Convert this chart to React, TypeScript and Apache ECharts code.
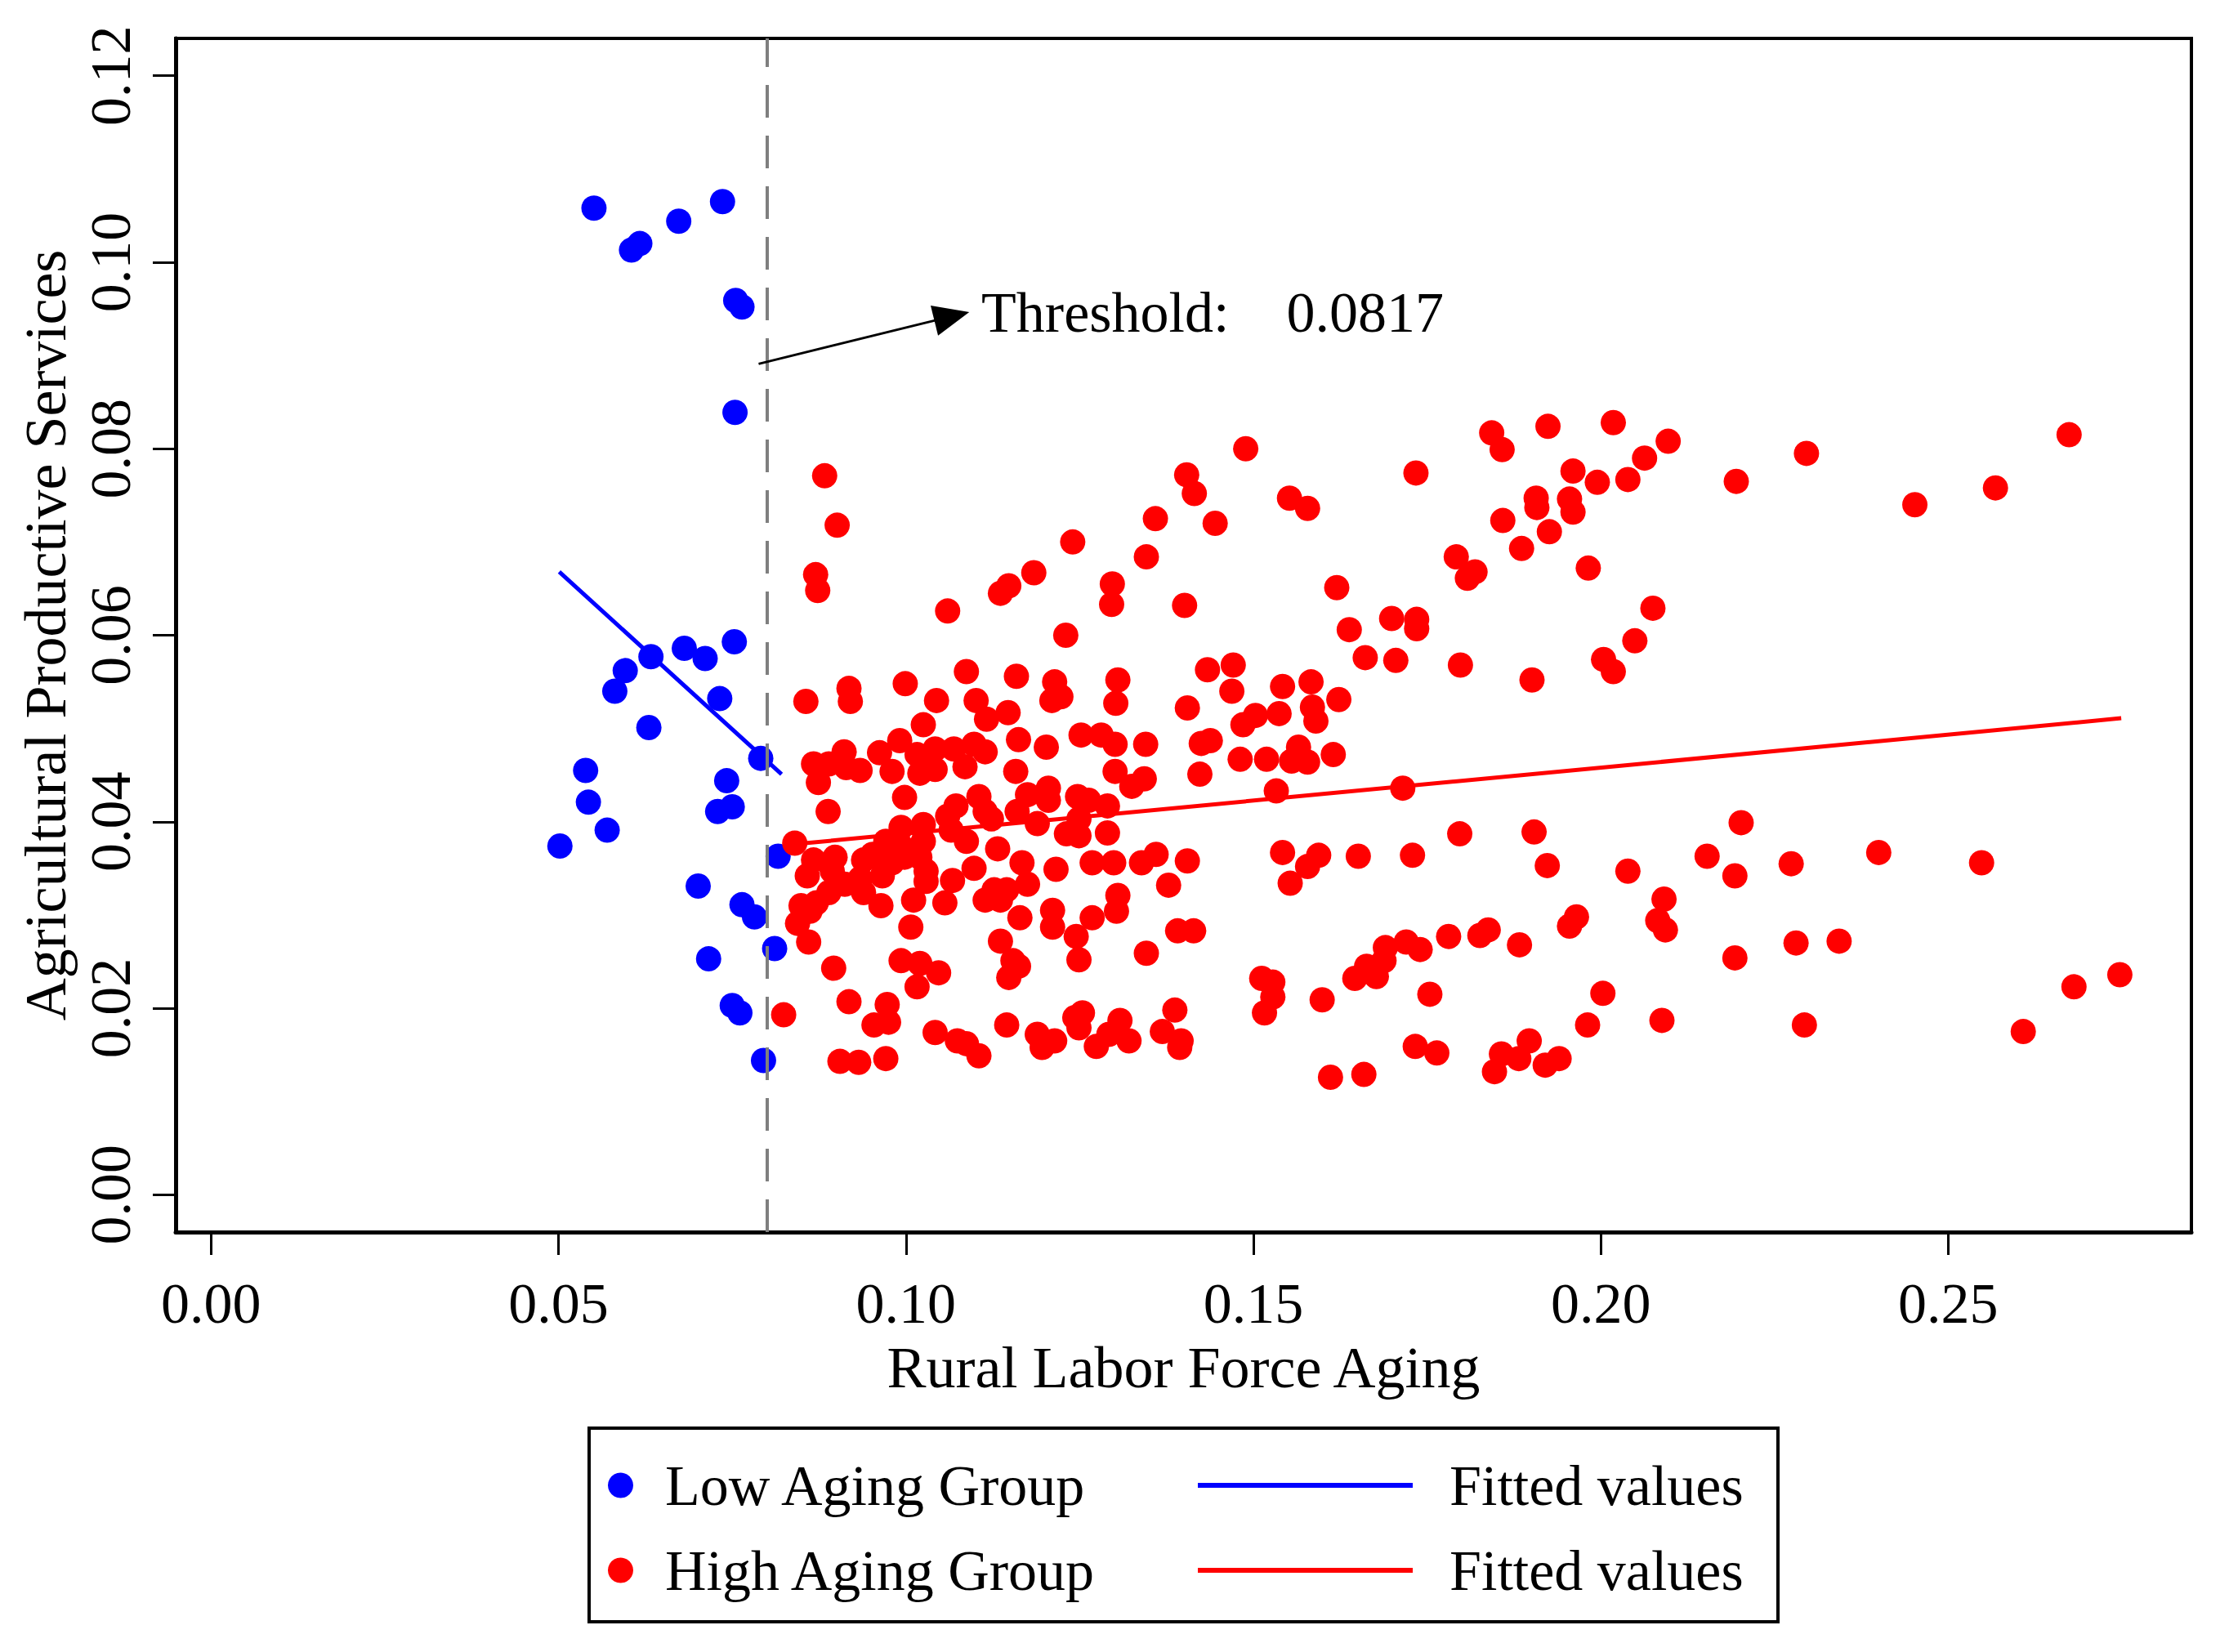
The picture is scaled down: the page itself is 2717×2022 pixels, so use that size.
import { useEffect, useRef } from 'react';
import * as echarts from 'echarts';

const FONT = 'Liberation Serif';

// x = Rural Labor Force Aging, y = Agricultural Productive Services
const lowAging: [number, number][] = [
  [0.0551, 0.1058], [0.0605, 0.1013], [0.0617, 0.102], [0.0673, 0.1044], [0.0736, 0.1065],
  [0.0755, 0.0959], [0.0764, 0.0952], [0.0754, 0.0839], [0.0502, 0.0374], [0.0539, 0.0455],
  [0.0543, 0.0421], [0.057, 0.0391], [0.0581, 0.054], [0.0596, 0.0562], [0.0633, 0.0577],
  [0.063, 0.0501], [0.0681, 0.0586], [0.0711, 0.0575], [0.0732, 0.0532], [0.0753, 0.0593],
  [0.0791, 0.0468], [0.0742, 0.0444], [0.0729, 0.0411], [0.075, 0.0416], [0.0701, 0.0331],
  [0.0764, 0.0311], [0.0782, 0.0298], [0.0716, 0.0253], [0.075, 0.0203], [0.0761, 0.0195],
  [0.0795, 0.0144], [0.0811, 0.0264], [0.0816, 0.0363],
];

const highAging: [number, number][] = [
  [0.0883, 0.0771], [0.0901, 0.0718], [0.087, 0.0665], [0.0873, 0.0648], [0.106, 0.0626],
  [0.1136, 0.0645], [0.1148, 0.0653], [0.1184, 0.0667], [0.124, 0.07], [0.1359, 0.0725],
  [0.1404, 0.0772], [0.1415, 0.0752], [0.1445, 0.072], [0.1346, 0.0684], [0.1297, 0.0655],
  [0.1296, 0.0633], [0.1401, 0.0632], [0.123, 0.06], [0.0856, 0.0529], [0.0918, 0.0543],
  [0.092, 0.0529], [0.0999, 0.0548], [0.1044, 0.053], [0.1087, 0.0561], [0.1101, 0.053],
  [0.1116, 0.051], [0.1147, 0.0517], [0.1159, 0.0556], [0.1214, 0.055], [0.121, 0.053],
  [0.1223, 0.0534], [0.1305, 0.0552], [0.1302, 0.0527], [0.1434, 0.0563], [0.1405, 0.0522],
  [0.1025, 0.0504], [0.1162, 0.0488], [0.1202, 0.048], [0.1252, 0.0493], [0.1281, 0.0493],
  [0.1301, 0.0483], [0.1345, 0.0483], [0.1425, 0.0484], [0.1438, 0.0487], [0.1423, 0.0451],
  [0.1301, 0.0454], [0.1158, 0.0454], [0.1343, 0.0446], [0.1325, 0.0438], [0.0867, 0.0462],
  [0.0911, 0.0475], [0.0889, 0.0462], [0.0934, 0.0455], [0.0914, 0.0458], [0.0962, 0.0474],
  [0.098, 0.0454], [0.0991, 0.0487], [0.1016, 0.0472], [0.102, 0.0452], [0.1042, 0.0478],
  [0.1042, 0.0456], [0.1069, 0.0478], [0.1085, 0.0459], [0.1098, 0.0483], [0.1114, 0.0475],
  [0.0874, 0.0442], [0.0998, 0.0426], [0.0888, 0.0411], [0.1072, 0.0417], [0.106, 0.0406],
  [0.1105, 0.0427], [0.1114, 0.0411], [0.1123, 0.0403], [0.1175, 0.0429], [0.1205, 0.0436],
  [0.1205, 0.0423], [0.116, 0.0411], [0.1189, 0.0398], [0.1247, 0.0427], [0.1263, 0.0423],
  [0.129, 0.0417], [0.1249, 0.0403], [0.1231, 0.0387], [0.129, 0.0388], [0.1249, 0.0385],
  [0.084, 0.0377], [0.0993, 0.0394], [0.1025, 0.0397], [0.0971, 0.0379], [0.1025, 0.0379],
  [0.0993, 0.0374], [0.1065, 0.0391], [0.1087, 0.0379], [0.1132, 0.0371], [0.0867, 0.0359],
  [0.0898, 0.0362], [0.0858, 0.0342], [0.0894, 0.0347], [0.0939, 0.0359], [0.0952, 0.0365],
  [0.098, 0.0356], [0.0998, 0.0362], [0.102, 0.0362], [0.1029, 0.0347], [0.0934, 0.0339],
  [0.0966, 0.0342], [0.0939, 0.0324], [0.0912, 0.0333], [0.0889, 0.0324], [0.0871, 0.0313],
  [0.0849, 0.031], [0.0844, 0.0291], [0.0862, 0.0304], [0.086, 0.0271], [0.0964, 0.031],
  [0.1029, 0.0336], [0.1011, 0.0316], [0.1007, 0.0287], [0.1056, 0.0313], [0.1067, 0.0337],
  [0.1098, 0.035], [0.1114, 0.0316], [0.1127, 0.0327], [0.1145, 0.0327], [0.1136, 0.0316],
  [0.1167, 0.0356], [0.1175, 0.0333], [0.1164, 0.0297], [0.1216, 0.0349], [0.1268, 0.0356],
  [0.1299, 0.0356], [0.1339, 0.0356], [0.136, 0.0365], [0.1405, 0.0358], [0.1378, 0.0332],
  [0.1305, 0.0321], [0.1303, 0.0304], [0.1211, 0.0305], [0.1211, 0.0287], [0.1268, 0.0297],
  [0.1245, 0.0277], [0.1249, 0.0252], [0.1346, 0.0259], [0.1391, 0.0283], [0.1414, 0.0283],
  [0.1136, 0.0272], [0.1154, 0.0251], [0.1162, 0.0245], [0.1148, 0.0233], [0.0896, 0.0243],
  [0.0993, 0.0251], [0.102, 0.0248], [0.1047, 0.0238], [0.1016, 0.0223], [0.0918, 0.0207],
  [0.0824, 0.0193], [0.0973, 0.0204], [0.0954, 0.0182], [0.0975, 0.0185], [0.1042, 0.0174],
  [0.1074, 0.0165], [0.1087, 0.0162], [0.1105, 0.0149], [0.1145, 0.0182], [0.1189, 0.0172],
  [0.1214, 0.0165], [0.1196, 0.0158], [0.1243, 0.019], [0.1254, 0.0195], [0.1249, 0.0179],
  [0.1274, 0.0159], [0.1292, 0.0172], [0.1308, 0.0187], [0.1321, 0.0165], [0.1387, 0.0198],
  [0.1369, 0.0175], [0.1396, 0.0165], [0.1394, 0.0158], [0.0905, 0.0143], [0.0932, 0.0142],
  [0.0971, 0.0146], [0.1489, 0.08], [0.1552, 0.0747], [0.1578, 0.0736], [0.1734, 0.0774],
  [0.1843, 0.0817], [0.1858, 0.0799], [0.1924, 0.0824], [0.2018, 0.0828], [0.2097, 0.0808],
  [0.2063, 0.079], [0.2039, 0.0767], [0.1995, 0.0764], [0.196, 0.0776], [0.1907, 0.0747],
  [0.1908, 0.0737], [0.1955, 0.0746], [0.196, 0.0732], [0.1859, 0.0723], [0.1926, 0.0711],
  [0.1886, 0.0693], [0.1982, 0.0672], [0.1792, 0.0684], [0.1819, 0.0668], [0.1808, 0.0661],
  [0.162, 0.0651], [0.1638, 0.0606], [0.1699, 0.0618], [0.1735, 0.0617], [0.1735, 0.0607],
  [0.1661, 0.0576], [0.1705, 0.0573], [0.1798, 0.0568], [0.1901, 0.0552], [0.2075, 0.0629],
  [0.2049, 0.0594], [0.2004, 0.0574], [0.2018, 0.0561], [0.1471, 0.0568], [0.1469, 0.054],
  [0.1542, 0.0545], [0.1583, 0.055], [0.1585, 0.0523], [0.159, 0.0508], [0.1623, 0.0531],
  [0.1537, 0.0516], [0.1503, 0.0514], [0.1485, 0.0504], [0.1481, 0.0467], [0.1519, 0.0467],
  [0.1565, 0.048], [0.1555, 0.0465], [0.1578, 0.0464], [0.1615, 0.0472], [0.1533, 0.0433],
  [0.1715, 0.0436], [0.1542, 0.0367], [0.1594, 0.0364], [0.1578, 0.0352], [0.1553, 0.0334],
  [0.1651, 0.0363], [0.1729, 0.0364], [0.1797, 0.0387], [0.1904, 0.0389], [0.1923, 0.0353],
  [0.2039, 0.0347], [0.2091, 0.0317], [0.2082, 0.0294], [0.2093, 0.0284], [0.1965, 0.0298],
  [0.1955, 0.0288], [0.1883, 0.0268], [0.1838, 0.0284], [0.1826, 0.0278], [0.1781, 0.0277],
  [0.174, 0.0263], [0.172, 0.0271], [0.169, 0.0265], [0.1688, 0.0251], [0.1663, 0.0245],
  [0.1677, 0.0234], [0.1646, 0.0232], [0.1512, 0.0232], [0.1528, 0.0228], [0.1528, 0.0212],
  [0.1516, 0.0195], [0.1599, 0.0209], [0.1754, 0.0215], [0.2003, 0.0216], [0.1981, 0.0182],
  [0.2088, 0.0187], [0.1733, 0.0159], [0.1764, 0.0152], [0.1611, 0.0126], [0.1659, 0.0129],
  [0.1857, 0.0151], [0.1897, 0.0165], [0.1882, 0.0146], [0.1847, 0.0132], [0.192, 0.0139],
  [0.194, 0.0146], [0.2195, 0.0765], [0.2296, 0.0795], [0.2452, 0.074], [0.2568, 0.0758],
  [0.2674, 0.0815], [0.2202, 0.0399], [0.2153, 0.0363], [0.2193, 0.0342], [0.2274, 0.0355],
  [0.24, 0.0367], [0.2548, 0.0356], [0.2193, 0.0254], [0.2281, 0.027], [0.2343, 0.0272],
  [0.2293, 0.0182], [0.2681, 0.0223], [0.2747, 0.0236], [0.2608, 0.0175],
];

const fittedLow: [number, number][] = [[0.0501, 0.0668], [0.0821, 0.0451]];
const fittedHigh: [number, number][] = [[0.0826, 0.0375], [0.2749, 0.0511]];

const thresholdLine = 0.0799;
const arrowFrom: [number, number] = [0.0788, 0.0891];
const arrowTo: [number, number] = [0.1066, 0.0942];
const labelAt: [number, number] = [0.1108, 0.0946];

const xTicks = [0, 0.05, 0.1, 0.15, 0.2, 0.25];
const yTicks = [0, 0.02, 0.04, 0.06, 0.08, 0.1, 0.12];

export default function App() {
  const chartRef = useRef<HTMLDivElement>(null);

  useEffect(() => {
    if (!chartRef.current) return;
    document.body.style.margin = '0';
    const chart = echarts.init(chartRef.current, undefined, { renderer: 'svg' });

    const text = { fontFamily: FONT, fontSize: 70, color: '#000' };

    const option: echarts.EChartsOption = {
      animation: false,
      backgroundColor: '#fff',
      grid: {
        left: 215,
        right: 35,
        top: 47,
        bottom: 514,
        show: true,
        borderColor: '#000',
        borderWidth: 4,
      },
      xAxis: {
        type: 'value',
        min: -0.0051,
        max: 0.285,
        name: 'Rural Labor Force Aging',
        nameLocation: 'middle',
        nameGap: 130,
        nameTextStyle: { ...text, fontSize: 72 },
        axisLine: { show: true, onZero: false, lineStyle: { color: '#000', width: 5 } },
        axisTick: { show: true, length: 28, customValues: xTicks, lineStyle: { color: '#000', width: 3 } },
        axisLabel: { ...text, margin: 52, customValues: xTicks, formatter: (v: number) => v.toFixed(2) },
        splitLine: { show: false },
      },
      yAxis: {
        type: 'value',
        min: -0.004,
        max: 0.124,
        name: 'Agricultural Productive Services',
        nameLocation: 'middle',
        nameGap: 120,
        nameTextStyle: { ...text, fontSize: 72 },
        axisLine: { show: true, onZero: false, lineStyle: { color: '#000', width: 5 } },
        axisTick: { show: true, length: 28, customValues: yTicks, lineStyle: { color: '#000', width: 3 } },
        axisLabel: { ...text, rotate: 90, margin: 45, customValues: yTicks, formatter: (v: number) => v.toFixed(2) },
        splitLine: { show: false },
      },
      legend: [
        {
          data: ['Low Aging Group', 'High Aging Group'],
          orient: 'vertical',
          left: 744,
          top: 1778,
          padding: 0,
          itemWidth: 31,
          itemHeight: 31,
          itemGap: 24,
          icon: 'circle',
          selectedMode: false,
          textStyle: { ...text, lineHeight: 80, padding: [0, 0, 0, 34] },
        },
        {
          data: ['Fitted values (Low)', 'Fitted values (High)'],
          formatter: () => 'Fitted values',
          orient: 'vertical',
          left: 1466,
          top: 1778,
          padding: 0,
          itemWidth: 263,
          itemHeight: 6,
          itemGap: 24,
          icon: 'rect',
          selectedMode: false,
          textStyle: { ...text, lineHeight: 80, padding: [0, 0, 0, 40] },
        },
      ],
      graphic: [
        {
          type: 'rect',
          shape: { x: 721, y: 1748, width: 1455, height: 237 },
          style: { fill: 'none', stroke: '#000', lineWidth: 4 },
          silent: true,
        },
      ],
      series: [
        {
          name: 'Threshold',
          type: 'line',
          data: [],
          silent: true,
          markLine: {
            silent: true,
            symbol: ['none', 'none'],
            label: { show: false },
            data: [
              { xAxis: thresholdLine, lineStyle: { color: '#7f7f7f', width: 4, type: [40, 22] } },
              [
                { coord: arrowFrom, symbol: 'none', lineStyle: { color: '#000', width: 3, type: 'solid' } },
                { coord: arrowTo, symbol: 'triangle', symbolSize: [38, 44] },
              ] as any,
            ],
          },
          markPoint: {
            silent: true,
            symbol: 'circle',
            symbolSize: 1,
            itemStyle: { color: 'rgba(0,0,0,0)' },
            data: [
              {
                coord: labelAt,
                label: {
                  show: true,
                  position: 'right',
                  distance: 0,
                  formatter: 'Threshold:    0.0817',
                  ...text,
                },
              },
            ],
          },
        },
        {
          name: 'Low Aging Group',
          type: 'scatter',
          data: lowAging,
          symbolSize: 31,
          itemStyle: { color: '#0000ff', opacity: 1 },
          z: 3,
        },
        {
          name: 'High Aging Group',
          type: 'scatter',
          data: highAging,
          symbolSize: 31,
          itemStyle: { color: '#ff0000', opacity: 1 },
          z: 3,
        },
        {
          name: 'Fitted values (Low)',
          type: 'line',
          data: fittedLow,
          symbol: 'none',
          lineStyle: { color: '#0000ff', width: 5 },
          itemStyle: { color: '#0000ff' },
          z: 4,
        },
        {
          name: 'Fitted values (High)',
          type: 'line',
          data: fittedHigh,
          symbol: 'none',
          lineStyle: { color: '#ff0000', width: 5 },
          itemStyle: { color: '#ff0000' },
          z: 4,
        },
      ],
    };

    chart.setOption(option);
    return () => chart.dispose();
  }, []);

  return <div ref={chartRef} style={{ width: 2717, height: 2022 }} />;
}
